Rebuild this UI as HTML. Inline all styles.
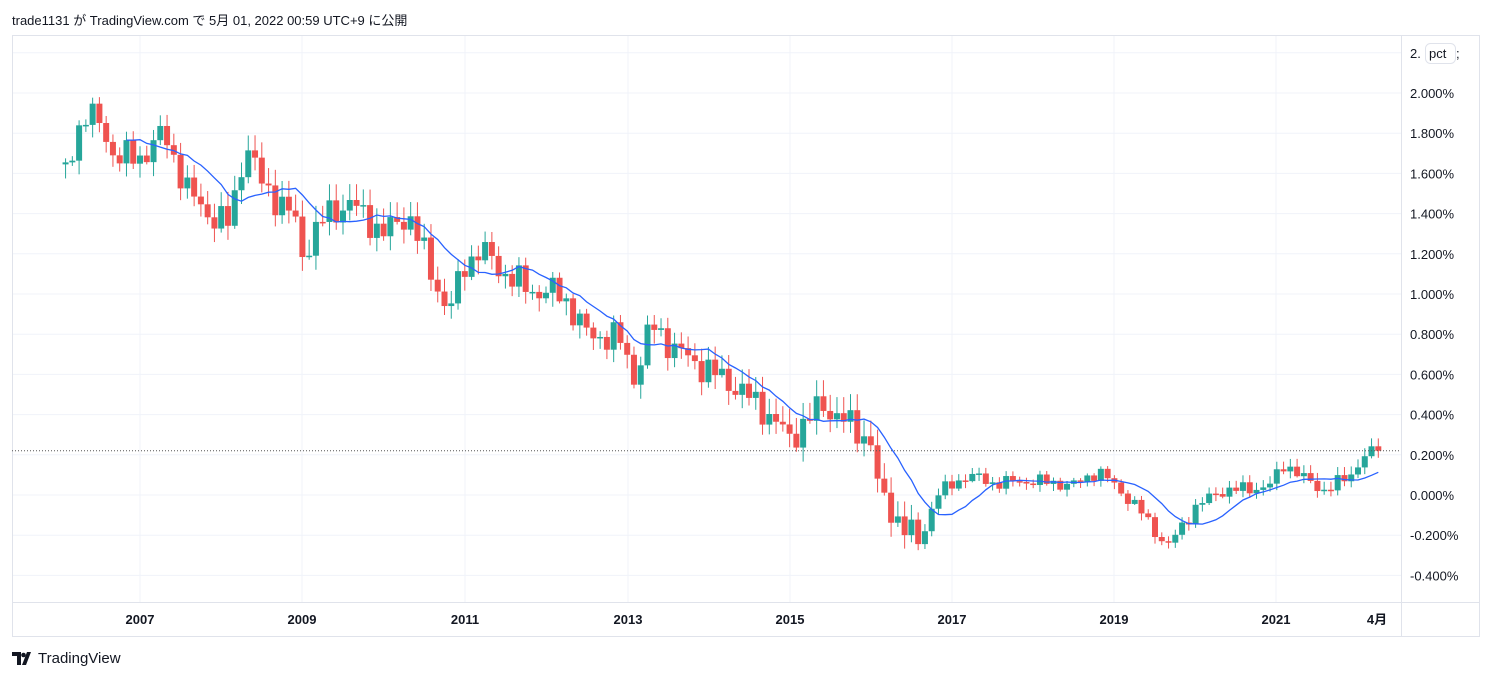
<!DOCTYPE html>
<html><head><meta charset="utf-8"><style>
body{margin:0;background:#fff;width:1493px;height:681px;overflow:hidden;font-family:"Liberation Sans","Noto Sans CJK JP",sans-serif;}
#hdr{position:absolute;left:12px;top:10px;font-size:13px;color:#131722;}
#foot{position:absolute;left:12px;top:650px;font-size:15px;color:#131722;display:flex;align-items:center;gap:4px}
</style></head><body>
<div id="hdr">trade1131 が TradingView.com で 5月 01, 2022 00:59 UTC+9 に公開</div>
<svg id="c" width="1493" height="681" style="position:absolute;left:0;top:0"></svg>
<div id="foot"><svg width="22" height="14" viewBox="0 0 22 14"><path d="M0 0h9v13H5V4H0z M10 13l5-13h4l-5 13z" fill="#131722"/><circle cx="11.5" cy="3" r="2.3" fill="#131722"/></svg><span>TradingView</span></div>
<script>
const NS="http://www.w3.org/2000/svg",svg=document.getElementById('c');
function el(t,a,txt){const e=document.createElementNS(NS,t);for(const k in a)e.setAttribute(k,a[k]);if(txt!=null)e.textContent=txt;svg.appendChild(e);return e;}
const Y=v=>495-v*201, X=t=>140+(t-2007)*81.2;
for(let v=-0.4;v<=2.21;v+=0.2){el('line',{x1:12,x2:1401,y1:Y(v),y2:Y(v),stroke:'#f0f3fa'});}
[140,302,465,628,790,952,1114,1276].forEach(x=>el('line',{x1:x,x2:x,y1:35,y2:602,stroke:'#f0f3fa'}));
el('rect',{x:12.5,y:35.5,width:1467,height:601,fill:'none',stroke:'#e0e3eb'});
el('line',{x1:1401.5,x2:1401.5,y1:35,y2:637,stroke:'#e0e3eb'});
el('line',{x1:12,x2:1480,y1:602.5,y2:602.5,stroke:'#e0e3eb'});
for(let i=-2;i<=10;i++){const v=i*0.2;const y=Y(v);if(y<45)continue;el('text',{x:1410,y:y+5,'font-size':13,fill:'#131722'},(v<0?'-':'')+Math.abs(v).toFixed(3)+'%');}
el('text',{x:1410,y:58,'font-size':13,fill:'#131722'},'2.');
el('rect',{x:1425.5,y:43.5,width:30,height:20,rx:5,fill:'#fff',stroke:'#e0e3eb'});
el('text',{x:1429,y:58,'font-size':13,fill:'#131722'},'pct');
el('text',{x:1456,y:58,'font-size':13,fill:'#131722'},';');
[['2007',140],['2009',302],['2011',465],['2013',628],['2015',790],['2017',952],['2019',1114],['2021',1276],['4月',1377]].forEach(([s,x])=>el('text',{x:x,y:624,'font-size':13,'font-weight':'bold',fill:'#131722','text-anchor':'middle'},s));
const K=[[2006.08,1.6],[2006.3,1.9],[2006.5,1.85],[2006.7,1.68],[2007.0,1.68],[2007.3,1.8],[2007.6,1.5],[2007.9,1.38],[2008.1,1.35],[2008.3,1.75],[2008.5,1.55],[2008.9,1.38],[2009.0,1.2],[2009.3,1.4],[2009.6,1.45],[2010.0,1.3],[2010.3,1.4],[2010.5,1.2],[2010.8,0.9],[2011.0,1.15],[2011.2,1.22],[2011.5,1.1],[2011.8,1.02],[2012.2,1.0],[2012.5,0.8],[2012.9,0.78],[2013.1,0.58],[2013.3,0.85],[2013.6,0.72],[2014.0,0.62],[2014.3,0.55],[2014.7,0.42],[2015.0,0.28],[2015.4,0.45],[2015.8,0.33],[2016.0,0.27],[2016.1,0.0],[2016.6,-0.25],[2016.8,0.0],[2017.2,0.1],[2017.5,0.06],[2018.0,0.07],[2018.5,0.05],[2018.8,0.12],[2019.0,0.05],[2019.3,-0.07],[2019.65,-0.26],[2020.0,-0.06],[2020.3,0.02],[2020.9,0.04],[2021.1,0.16],[2021.3,0.09],[2021.6,0.02],[2021.9,0.1],[2022.1,0.2],[2022.25,0.22]];
function interp(t){for(let i=0;i<K.length-1;i++){if(t<=K[i+1][0]){const f=(t-K[i][0])/(K[i+1][0]-K[i][0]);return K[i][1]+f*(K[i+1][1]-K[i][1]);}}return K[K.length-1][1];}
const closes=[],ts=[];
for(let m=1;m<=195;m++){const t=2006+m/12;if(t>2022.26)break;ts.push(t);let n=(Math.sin(m*2.7)*0.6+Math.sin(m*1.3+1)*0.5)*0.08;if(t>2016.5)n*=0.45;if(t>2022.2)n=0;closes.push(interp(t)+n);}
closes[closes.length-1]=0.22;
for(let i=0;i<closes.length;i++){const t=ts[i],x=X(t);const c=closes[i],o=i?closes[i-1]:c-0.01;const up=c>=o;const col=up?'#26a69a':'#ef5350';const sc=t>2016.5?0.5:1;const r=(Math.abs(Math.sin(i*3.1))*0.06+0.02)*sc;const h=Math.max(o,c)+r,l=Math.min(o,c)-(Math.abs(Math.cos(i*1.7))*0.06+0.01)*sc;
el('line',{x1:x,x2:x,y1:Y(h),y2:Y(l),stroke:col,'stroke-width':1});
const yt=Y(Math.max(o,c)),hh=Math.max(1.5,Math.abs(Y(o)-Y(c)));el('rect',{x:x-3,y:yt,width:6,height:hh,fill:col});}
let d='';const N=10;for(let i=N-1;i<closes.length;i++){let s=0;for(let j=0;j<N;j++)s+=closes[i-j];d+=(d?'L':'M')+X(ts[i]).toFixed(1)+' '+Y(s/N).toFixed(1);}
el('path',{d:d,fill:'none',stroke:'#2962ff','stroke-width':1.3});
el('line',{x1:12,x2:1401,y1:Y(0.22),y2:Y(0.22),stroke:'#555','stroke-dasharray':'1 2'});
</script>
</body></html>
